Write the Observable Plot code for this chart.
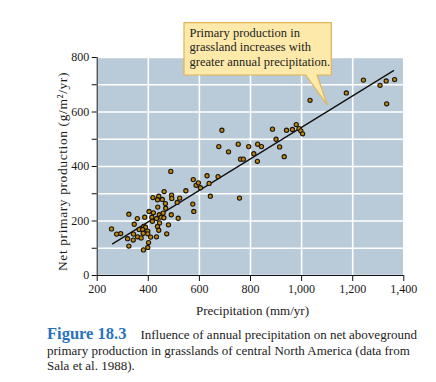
<!DOCTYPE html>
<html>
<head>
<meta charset="utf-8">
<script src="https://cdn.jsdelivr.net/npm/d3@7"></script>
<script src="https://cdn.jsdelivr.net/npm/@observablehq/plot@0.6"></script>
<style>
  html, body { margin: 0; padding: 0; background: #fff; }
  #wrap { position: relative; width: 436px; height: 382px; overflow: hidden; font-family: "Liberation Serif", "Times New Roman", serif; }
  #chart { position: absolute; left: 0; top: 0; }
  #callout { position: absolute; left: 0; top: 0; pointer-events: none; }
  #caption { position: absolute; left: 47px; top: 326px; width: 390px; font-size: 13px; line-height: 15.5px; color: #222; white-space: nowrap; }
  #caption .fig { color: #2b72bd; font-size: 16.5px; font-weight: bold; margin-right: 14px; }
</style>
</head>
<body>
<div id="wrap">
  <div id="chart"></div>
  <svg id="callout" width="436" height="382"></svg>
  <div id="caption"><span class="fig">Figure 18.3</span>Influence of annual precipitation on net aboveground<br>primary production in grasslands of central North America (data from<br>Sala et al. 1988).</div>
</div>
<script>
// Annual precipitation (mm/yr)
const precipitation = [
  1242, 1307, 1331, 1364, 1333, 1175, 1033, 886, 941, 964, 979, 990, 997, 1004,
  900, 914, 932, 793, 828, 843, 813, 827, 761, 772, 688, 676, 714, 752,
  488, 576, 630, 673, 587, 596, 638, 604, 547, 462, 418, 441, 455, 436, 491, 492,
  523, 467, 513, 643, 757, 574, 578, 437, 468, 403, 420, 324, 357, 386, 414, 432,
  443, 458, 450, 461, 490, 517, 416, 444, 345, 382, 389, 479, 364, 378, 398, 436,
  441, 256, 276, 292, 342, 380, 398, 409, 432, 472, 358, 372, 319, 341, 401, 324,
  398, 381
];
// Net aboveground primary production (g/m2/yr)
const production = [
  717, 698, 714, 719, 630, 670, 643, 537, 533, 536, 554, 539, 531, 520,
  500, 472, 436, 473, 482, 473, 447, 419, 427, 427, 533, 473, 454, 482,
  382, 352, 366, 363, 331, 340, 338, 322, 311, 308, 286, 291, 279, 278, 295, 283,
  284, 264, 268, 291, 284, 262, 235, 251, 247, 235, 230, 225, 209, 214, 214, 209,
  223, 229, 214, 212, 223, 210, 199, 193, 188, 180, 177, 186, 169, 169, 163, 180,
  166, 171, 152, 154, 152, 155, 153, 141, 142, 153, 142, 138, 135, 130, 121, 108,
  103, 94
];
// Regression line end points
const lineX = [260, 1360];
const lineY = [116, 752];
// Axis ticks
const xTicks = [200, 400, 600, 800, 1000, 1200, 1400];
const yTicks = [0, 100, 200, 300, 400, 500, 600, 700, 800];
const xLabel = "Precipitation (mm/yr)";
const yLabel = "Net primary production (g/m²/yr)";
const calloutLines = ["Primary production in", "grassland increases with", "greater annual precipitation."];

const points = precipitation.map((p, i) => ({p, npp: production[i]}));
const fitLine = lineX.map((p, i) => ({p, npp: lineY[i]}));

const chart = Plot.plot({
  width: 436,
  height: 320,
  marginLeft: 96.7,
  marginRight: 32.7,
  marginTop: 57,
  marginBottom: 45,
  style: {fontFamily: "'Liberation Serif', 'Times New Roman', serif", fontSize: "12px", color: "#1a1a1a", background: "transparent", overflow: "visible"},
  x: {domain: [200, 1400]},
  y: {domain: [0, 800]},
  marks: [
    Plot.frame({fill: "#b9cad9", stroke: null}),
    Plot.gridX(xTicks, {stroke: "#fff", strokeOpacity: 1, strokeWidth: 1.6}),
    Plot.gridY(yTicks, {stroke: "#fff", strokeOpacity: 1, strokeWidth: 1.6}),
    Plot.ruleX([200], {stroke: "#111", strokeWidth: 1}),
    Plot.ruleY([0], {stroke: "#111", strokeWidth: 1}),
    Plot.axisX(xTicks, {tickSize: 6, tickPadding: 3, tickFormat: d3.format(","), label: null, stroke: "#111"}),
    Plot.axisY(yTicks, {tickSize: 5, tickPadding: 3, tickFormat: d => d % 200 === 0 ? String(d) : "", label: null, stroke: "#111"}),
    Plot.text([xLabel], {frameAnchor: "bottom", lineAnchor: "middle", textAnchor: "middle", dy: 35, dx: 2, fontSize: 13}),
    Plot.text([yLabel], {frameAnchor: "left", lineAnchor: "middle", textAnchor: "middle", rotate: -90, dx: -35, dy: 5, fontSize: 13.5}),
    Plot.line(fitLine, {x: "p", y: "npp", stroke: "#111", strokeWidth: 1.3}),
    Plot.dot(points, {x: "p", y: "npp", r: 2.1, fill: "#c08a12", stroke: "#1c1508", strokeWidth: 1.1})
  ]
});
d3.select(chart).selectAll("text").filter(function() { return this.textContent === yLabel; })
  .style("letter-spacing", "0.6px");
document.getElementById("chart").appendChild(chart);

// Callout box (annotation)
const svg = d3.select("#callout");
svg.append("path")
  .attr("d", "M184,22.7 H331.3 V75 H317 L327.3,105 L305.7,75 H184 Z")
  .attr("fill", "#fde9aa")
  .attr("stroke", "#e1b459")
  .attr("stroke-width", 1.2);
const t = svg.append("text")
  .attr("font-family", "'Liberation Serif', 'Times New Roman', serif")
  .attr("font-size", 12.5)
  .attr("fill", "#222");
calloutLines.forEach((s, i) => {
  t.append("tspan").attr("x", 189.5).attr("y", 37 + i * 14.4).text(s);
});
</script>
</body>
</html>
